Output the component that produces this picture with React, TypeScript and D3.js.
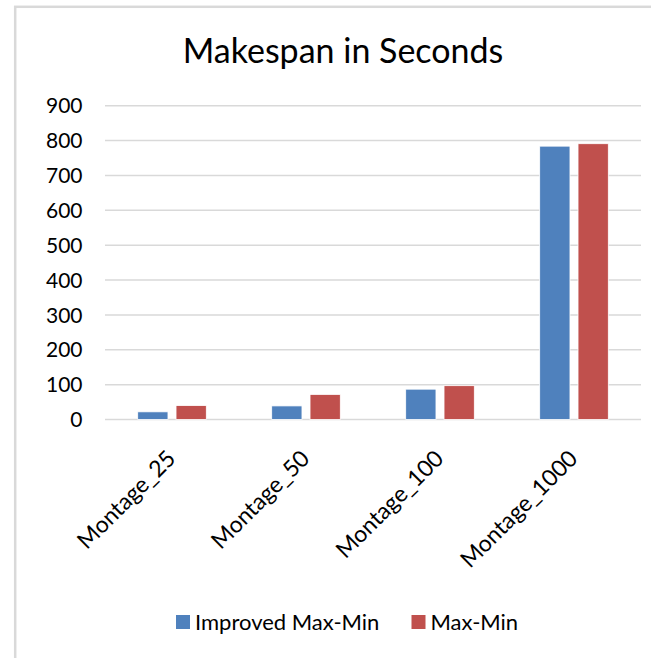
import React, { useEffect, useRef } from 'react'
import * as d3 from 'd3'

const categories = ['Montage_25', 'Montage_50', 'Montage_100', 'Montage_1000']
const seriesNames = ['Improved Max-Min', 'Max-Min']
const improvedMaxMin = [22, 39, 87, 784]
const maxMin = [40, 72, 97, 791]
const yTicks = [0, 100, 200, 300, 400, 500, 600, 700, 800, 900]
const colors = ['#4F81BD', '#C0504D']

const FONT = 'Lato, "Open Sans", sans-serif'

export default function App() {
  const ref = useRef<SVGSVGElement>(null)

  useEffect(() => {
    const svg = d3.select(ref.current)
    svg.selectAll('*').remove()

    const left = 105, right = 641, top = 105.7, bottom = 419.5

    // frame: only the top and left edges show inside the picture
    svg.append('rect')
      .attr('x', 15.2).attr('y', 6.8)
      .attr('width', 800).attr('height', 800)
      .attr('fill', '#fff')
      .attr('stroke', '#d9d9d9').attr('stroke-width', 2.5)

    svg.append('text')
      .attr('x', 343).attr('y', 63)
      .attr('text-anchor', 'middle')
      .style('font-family', FONT).style('font-size', '34px')
      .attr('fill', '#000')
      .text('Makespan in Seconds')

    const y = d3.scaleLinear().domain([0, 900]).range([bottom, top])
    const x0 = d3.scaleBand<string>().domain(categories).range([left, right]).padding(0)
    const bw = x0.bandwidth()
    const x1 = d3.scaleBand<string>().domain(seriesNames)
      .range([bw * 0.244, bw * 0.756]).paddingInner(0.21)

    const g = svg.append('g')

    g.selectAll('line.grid').data(yTicks).enter().append('line')
      .attr('class', 'grid')
      .attr('x1', left).attr('x2', right)
      .attr('y1', d => y(d)).attr('y2', d => y(d))
      .attr('stroke', '#d9d9d9').attr('stroke-width', 1.5)

    g.selectAll('text.ytick').data(yTicks).enter().append('text')
      .attr('class', 'ytick')
      .attr('x', 82.5).attr('y', d => y(d) + 7.6)
      .attr('text-anchor', 'end')
      .style('font-family', FONT).style('font-size', '21px')
      .attr('fill', '#000')
      .text(d => d)

    const table = categories.map((c, i) => ({ cat: c, vals: [improvedMaxMin[i], maxMin[i]] }))

    const groups = g.selectAll('g.grp').data(table).enter().append('g')
      .attr('class', 'grp')
      .attr('transform', d => `translate(${x0(d.cat)},0)`)

    groups.selectAll('rect').data(d => d.vals.map((v, j) => ({ s: seriesNames[j], v, j })))
      .enter().append('rect')
      .attr('x', d => x1(d.s)!)
      .attr('width', x1.bandwidth())
      .attr('y', d => y(d.v))
      .attr('height', d => y(0) - y(d.v))
      .attr('fill', d => colors[d.j])
      .attr('stroke', '#fff').attr('stroke-width', 0.8)

    g.selectAll('text.xlab').data(categories).enter().append('text')
      .attr('class', 'xlab')
      .attr('transform', d => `translate(${x0(d)! + bw / 2 + 5},460) rotate(-45)`)
      .attr('text-anchor', 'end')
      .style('font-family', FONT).style('font-size', '23px')
      .attr('fill', '#000')
      .text(d => d)

    // legend
    const legendX = [176, 411.5]
    const lg = svg.selectAll('g.leg').data(seriesNames).enter().append('g')
      .attr('class', 'leg')
      .attr('transform', (d, i) => `translate(${legendX[i]},615)`)
    lg.append('rect').attr('width', 14).attr('height', 14)
      .attr('fill', (d, i) => colors[i])
    lg.append('text').attr('x', 19).attr('y', 14.5)
      .style('font-family', FONT).style('font-size', '22px')
      .attr('fill', '#000')
      .text(d => d)
  }, [])

  return (
    <svg ref={ref} width={651} height={658}
      style={{ position: 'absolute', left: 0, top: 0, background: '#fff' }} />
  )
}
